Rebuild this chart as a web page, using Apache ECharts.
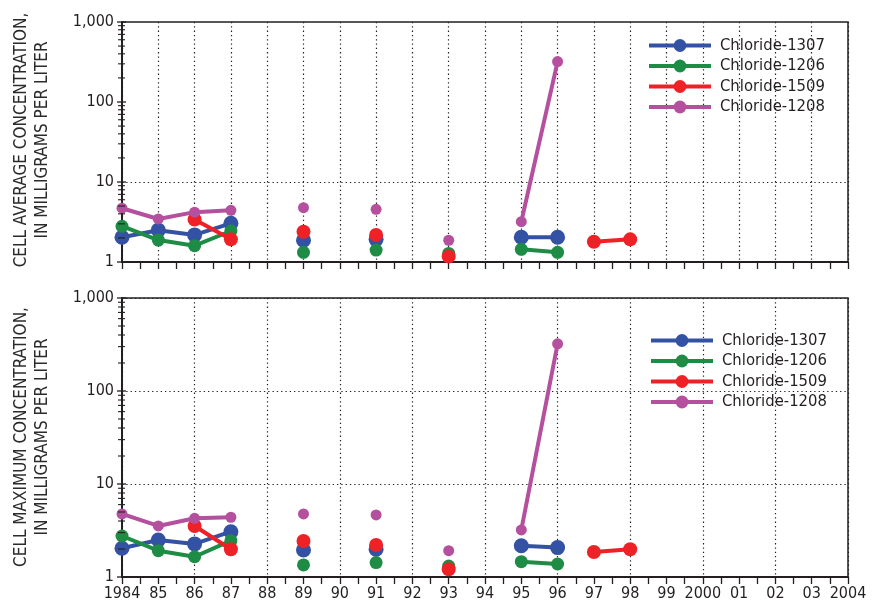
<!DOCTYPE html>
<html>
<head>
<meta charset="utf-8">
<script src="https://cdn.jsdelivr.net/npm/echarts@6/dist/echarts.min.js"></script>
<style>
  html, body { margin: 0; padding: 0; background: #fff; }
  #chart { width: 872px; height: 607px; }
</style>
</head>
<body>
<div id="chart"></div>
<script>
// Sampling years (index-aligned with every value array below)
const years = [1984, 1985, 1986, 1987, 1988, 1989, 1990, 1991, 1992, 1993, 1994, 1995, 1996, 1997, 1998];

const seriesNames = ['Chloride-1307', 'Chloride-1206', 'Chloride-1509', 'Chloride-1208'];

// Cell average concentration, mg/L
const avg1307 = [2.04, 2.5, 2.18, 3.04, null, 1.87, null, 1.92, null, null, null, 2.04, 2.04, null, null];
const avg1206 = [2.8, 1.88, 1.6, 2.44, null, 1.32, null, 1.41, null, 1.28, null, 1.44, 1.32, null, null];
const avg1509 = [null, null, 3.4, 1.92, null, 2.39, null, 2.18, null, 1.17, null, null, null, 1.79, 1.92];
const avg1208 = [4.7, 3.45, 4.2, 4.43, null, 4.77, null, 4.55, null, 1.87, null, 3.19, 320, null, null];

// Cell maximum concentration, mg/L
const max1307 = [2.04, 2.5, 2.27, 3.07, null, 1.95, null, 1.99, null, null, null, 2.17, 2.07, null, null];
const max1206 = [2.76, 1.92, 1.65, 2.46, null, 1.35, null, 1.43, null, 1.31, null, 1.46, 1.38, null, null];
const max1509 = [null, null, 3.54, 1.99, null, 2.44, null, 2.21, null, 1.21, null, null, null, 1.86, 1.99];
const max1208 = [4.77, 3.54, 4.28, 4.39, null, 4.77, null, 4.65, null, 1.92, null, 3.21, 322, null, null];

// Axis ticks
const yMajorTicks = [1, 10, 100, 1000];
const yMinorMultipliers = [2, 3, 4, 5, 6, 7, 8, 9];
const xMin = 1984, xMax = 2004;

const colors = ['#3452a4', '#1e8c45', '#ee2127', '#b5509f'];
const symbolSizes = [15, 13, 14, 11];
const INK = '#231f20';
const FONT = '"DejaVu Sans Condensed", "Liberation Sans Narrow", sans-serif';

const pairs = arr => years.map((y, i) => [y, arr[i]]);

const yearLabel = v => {
  const y = Math.round(v);
  if (y === 1984 || y === 2000 || y === 2004) return String(y);
  return String(y % 100).padStart(2, '0');
};

const dotted = { color: INK, width: 1.2, type: [1.3, 3] };

function xAxisFor(gridIndex, showLabels) {
  return {
    type: 'value', gridIndex, min: xMin, max: xMax, interval: 1,
    axisLine: { show: true, onZero: false, lineStyle: { color: INK, width: 2 } },
    axisTick: { show: true, length: 7, lineStyle: { color: INK, width: 1.3 } },
    minorTick: { show: true, splitNumber: 2, length: 7, lineStyle: { color: INK, width: 1.3 } },
    axisLabel: { show: showLabels, formatter: yearLabel, color: INK, fontSize: 16, fontFamily: FONT, margin: 9 },
    splitLine: { show: false },
    minorSplitLine: { show: false }
  };
}

function gridLinesAxis(gridIndex, step) {
  // invisible x axis that only contributes the dotted vertical grid
  return {
    type: 'value', gridIndex, min: xMin, max: xMax, interval: step,
    axisLine: { show: false }, axisTick: { show: false }, axisLabel: { show: false },
    splitLine: { show: true, lineStyle: dotted }
  };
}

function yAxisFor(gridIndex, showSplit) {
  return {
    type: 'log', logBase: 10, gridIndex, min: 1, max: 1000,
    axisLine: { show: true, lineStyle: { color: INK, width: 2 } },
    axisTick: { show: false },
    axisLabel: {
      color: INK, fontSize: 16, fontFamily: FONT, margin: 8,
      formatter: v => { const n = Math.round(v); return n >= 1000 ? n.toLocaleString('en-US') : String(n); }
    },
    splitLine: { show: showSplit, lineStyle: dotted }
  };
}

function seriesFor(gridIdx, arrays) {
  return arrays.map((arr, k) => ({
    name: seriesNames[k],
    type: 'line',
    xAxisIndex: gridIdx * 2,
    yAxisIndex: gridIdx,
    data: pairs(arr),
    connectNulls: false,
    showSymbol: true,
    showAllSymbol: true,
    symbol: 'circle',
    symbolSize: symbolSizes[k],
    color: colors[k],
    lineStyle: { width: 4, color: colors[k] },
    itemStyle: { color: colors[k] },
    emphasis: { disabled: true },
    animation: false,
    z: 3 + k
  }));
}

const topSeries = seriesFor(0, [avg1307, avg1206, avg1509, avg1208]);
const bottomSeries = seriesFor(1, [max1307, max1206, max1509, max1208]);

// upper panel: only the 10 mg/L reference line is drawn
topSeries[0].markLine = {
  silent: true, symbol: 'none', animation: false,
  label: { show: false },
  lineStyle: dotted,
  data: [{ yAxis: 10 }]
};

const legendBase = {
  orient: 'vertical',
  padding: 0,
  itemWidth: 62, itemHeight: 16, itemGap: 3.5,
  selectedMode: false,
  lineStyle: { width: 4 },
  textStyle: { color: INK, fontSize: 16.5, lineHeight: 16, fontFamily: FONT, padding: [0, 0, 0, 4] },
  data: seriesNames
};

const chart = echarts.init(document.getElementById('chart'), null, { renderer: 'canvas' });

chart.setOption({
  animation: false,
  backgroundColor: '#fff',
  grid: [
    { left: 122, right: 24, top: 22, height: 240, show: true, borderColor: INK, borderWidth: 1.5, backgroundColor: 'transparent' },
    { left: 122, right: 24, top: 298, height: 279, show: true, borderColor: INK, borderWidth: 1.5, backgroundColor: 'transparent' }
  ],
  xAxis: [
    xAxisFor(0, false), gridLinesAxis(0, 1),
    xAxisFor(1, true), gridLinesAxis(1, 2)
  ],
  yAxis: [yAxisFor(0, false), yAxisFor(1, true)],
  legend: [
    Object.assign({}, legendBase, { left: 647, top: 37 }),
    Object.assign({}, legendBase, { left: 649, top: 332 })
  ],
  series: topSeries.concat(bottomSeries)
});

// y-axis tick marks crossing the axis line, major at decades, minor at 2..9
function yTicks() {
  const els = [];
  [0, 1].forEach(gi => {
    const x0 = chart.convertToPixel({ xAxisIndex: gi * 2 }, xMin);
    yMajorTicks.forEach((d, i) => {
      const py = chart.convertToPixel({ yAxisIndex: gi }, d);
      els.push({ type: 'line', shape: { x1: x0 - 5, y1: py, x2: x0 + 4, y2: py }, style: { stroke: INK, lineWidth: 1.3 }, z: 10 });
      if (i < yMajorTicks.length - 1) {
        yMinorMultipliers.forEach(m => {
          const my = chart.convertToPixel({ yAxisIndex: gi }, d * m);
          els.push({ type: 'line', shape: { x1: x0 - 4, y1: my, x2: x0 + 3, y2: my }, style: { stroke: INK, lineWidth: 1.1 }, z: 10 });
        });
      }
    });
  });
  return els;
}

const titleStyle = { fill: '#2b2b2b', fontSize: 17, fontFamily: FONT, align: 'center', verticalAlign: 'middle', lineHeight: 21 };

chart.setOption({
  graphic: yTicks().concat([
    { type: 'text', x: 32, y: 140, rotation: Math.PI / 2, style: Object.assign({ text: 'CELL AVERAGE CONCENTRATION,\nIN MILLIGRAMS PER LITER' }, titleStyle) },
    { type: 'text', x: 32, y: 437, rotation: Math.PI / 2, style: Object.assign({ text: 'CELL MAXIMUM CONCENTRATION,\nIN MILLIGRAMS PER LITER' }, titleStyle) }
  ])
});
</script>
</body>
</html>
